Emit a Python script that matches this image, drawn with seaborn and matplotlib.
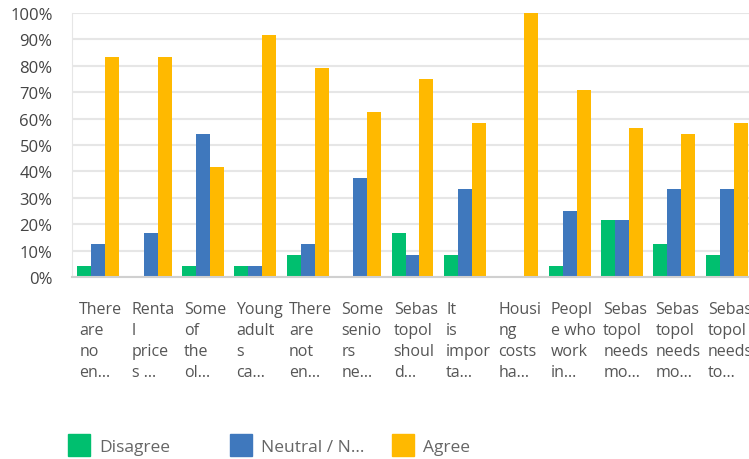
import numpy as np
import pandas as pd
import matplotlib
matplotlib.use("Agg")
import matplotlib.pyplot as plt
from matplotlib.lines import Line2D
from matplotlib.ticker import FuncFormatter
import seaborn as sns

# question ids (labels repeat, so keep unique keys for the categories)
questions = ["Q%d" % i for i in range(1, 14)]
labels = [
    "There\nare\nno\nen…", "Renta\nl\nprice\ns …", "Some\nof\nthe\nol…",
    "Young\nadult\ns\nca…", "There\nare\nnot\nen…", "Some\nsenio\nrs\nne…",
    "Sebas\ntopol\nshoul\nd…", "It\nis\nimpor\nta…", "Housi\nng\ncosts\nha…",
    "Peopl\ne who\nwork\nin…", "Sebas\ntopol\nneeds\nmo…", "Sebas\ntopol\nneeds\nmo…",
    "Sebas\ntopol\nneeds\nto…",
]
responses = ["Disagree", "Neutral / N...", "Agree"]
disagree = [4.17, 0, 4.17, 4.17, 8.33, 0, 16.67, 8.33, 0, 4.17, 21.74, 12.5, 8.33]
neutral = [12.5, 16.67, 54.17, 4.17, 12.5, 37.5, 8.33, 33.33, 0, 25.0, 21.74, 33.33, 33.33]
agree = [83.33, 83.33, 41.67, 91.67, 79.17, 62.5, 75.0, 58.33, 100.0, 70.83, 56.52, 54.17, 58.33]
colors = {"Disagree": "#00bf6f", "Neutral / N...": "#3f78bd", "Agree": "#ffb900"}

df = pd.DataFrame({
    "question": questions * 3,
    "response": np.repeat(responses, len(questions)),
    "pct": disagree + neutral + agree,
})

W, H = 749, 460
fig = plt.figure(figsize=(W / 100, H / 100), dpi=100)
ax = fig.add_axes([72 / W, (H - 278) / H, 681 / W, 264 / H])

sns.barplot(data=df, x="question", y="pct", hue="response", hue_order=responses,
            palette=colors, saturation=1, width=0.8, linewidth=0, ax=ax, legend=False)

ax.set_xlim(-0.5, 12.5)
ax.set_ylim(0, 100)
ax.set_yticks(range(0, 101, 10))
ax.yaxis.set_major_formatter(FuncFormatter(lambda v, p: "%d%%" % v))
ax.yaxis.grid(True, color="#e6e6e6", linewidth=1.5)
ax.set_axisbelow(True)
ax.set_xlabel("")
ax.set_ylabel("")
for s in ["top", "right"]:
    ax.spines[s].set_visible(False)
ax.spines["left"].set_color("#e6e6e6")
ax.spines["bottom"].set_color("#d0d0d0")
ax.spines["bottom"].set_linewidth(1.5)
ax.tick_params(length=0)
ax.tick_params(axis="y", pad=14, labelsize=12, labelcolor="#444444")

ax.set_xticks(np.arange(len(questions)) - 0.36)
ax.set_xticklabels(labels, ha="left", fontsize=11.5, color="#555555",
                   linespacing=1.42, family="Open Sans")
ax.tick_params(axis="x", pad=17)

for lbl in ax.get_yticklabels():
    lbl.set_family("Open Sans")

# legend entries placed one by one
leg_x = [68, 230, 392]
for r, x in zip(responses, leg_x):
    h = Line2D([], [], marker="s", color=colors[r], linestyle="none", markersize=16.5)
    fig.legend(handles=[h], labels=[r], loc="center left",
               bbox_to_anchor=(x / W, 1 - 448 / H), frameon=False,
               borderpad=0, borderaxespad=0, handlelength=1.3, handletextpad=0.5,
               prop={"family": "Open Sans", "size": 12.5}, labelcolor="#666666")

fig.savefig("out.png", dpi=100)
